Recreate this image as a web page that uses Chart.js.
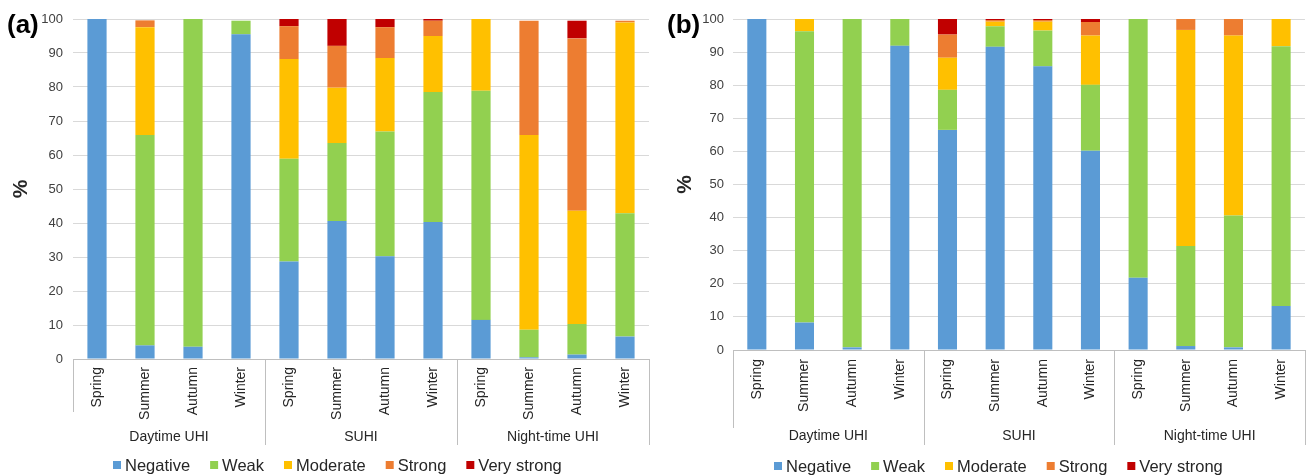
<!DOCTYPE html>
<html>
<head>
<meta charset="utf-8">
<script src="https://cdn.jsdelivr.net/npm/chart.js@4.4.1/dist/chart.umd.min.js"></script>
<style>
html,body{margin:0;padding:0;background:#fff;}
#wrap{position:relative;width:1307px;height:476px;overflow:hidden;}
canvas{position:absolute;top:0;}
</style>
</head>
<body>
<div id="wrap">
<canvas id="ca" width="654" height="476" style="left:0px"></canvas>
<canvas id="cb" width="653" height="476" style="left:654px"></canvas>
</div>
<script>
// ---------- data ----------
const categories = ['Spring','Summer','Autumn','Winter','Spring','Summer','Autumn','Winter','Spring','Summer','Autumn','Winter'];
const groups = ['Daytime UHI','SUHI','Night-time UHI'];
const seriesNames = ['Negative','Weak','Moderate','Strong','Very strong'];
const seriesColors = ['#5b9bd5','#92d050','#ffc000','#ed7d31','#c00000'];
const yTickValues = [0,10,20,30,40,50,60,70,80,90,100];

// panel (a)
const aNegative   = [100, 4.0, 3.6, 95.5, 28.7, 40.6, 30.2, 40.3, 11.5, 0.5, 1.3, 6.6];
const aWeak       = [0, 61.9, 96.4, 4.0, 30.2, 22.9, 36.7, 38.2, 67.4, 8.1, 9.0, 36.3];
const aModerate   = [0, 31.7, 0, 0, 29.3, 16.3, 21.6, 16.5, 21.1, 57.3, 33.3, 56.1];
const aStrong     = [0, 2.0, 0, 0, 9.7, 12.3, 9.1, 4.5, 0, 33.6, 50.7, 0.5];
const aVeryStrong = [0, 0, 0, 0, 2.1, 7.9, 2.4, 0.5, 0, 0, 5.2, 0];

// panel (b)
const bNegative   = [100, 8.3, 0.8, 91.9, 66.5, 91.6, 85.7, 60.2, 21.8, 1.2, 0.8, 13.3];
const bWeak       = [0, 88.0, 99.2, 8.1, 12.1, 6.2, 10.8, 19.9, 78.2, 30.2, 39.8, 78.5];
const bModerate   = [0, 3.7, 0, 0, 9.7, 1.4, 2.7, 14.9, 0, 65.3, 54.4, 8.2];
const bStrong     = [0, 0, 0, 0, 7.0, 0.5, 0.5, 4.1, 0, 3.3, 5.0, 0];
const bVeryStrong = [0, 0, 0, 0, 4.7, 0.3, 0.3, 0.9, 0, 0, 0, 0];

// ---------- rendering ----------
const FONT = "'Liberation Sans', Arial, sans-serif";
Chart.defaults.font.family = FONT;

function makePanel(canvasId, tag, seriesData, L) {
  const datasets = seriesNames.map((n, i) => ({
    label: n,
    data: seriesData[i],
    backgroundColor: seriesColors[i],
    borderWidth: 0,
    barPercentage: 1,
    categoryPercentage: 0.4
  }));

  const decor = {
    id: 'decor',
    afterDraw(chart) {
      const ctx = chart.ctx;
      const xs = chart.scales.x;
      const ca = chart.chartArea;
      const n = categories.length;
      ctx.save();
      // group separators
      ctx.strokeStyle = '#bfbfbf';
      ctx.lineWidth = 1;
      const bounds = [];
      for (let g = 0; g <= groups.length; g++) {
        const i = g * 4;
        let px;
        if (i === 0) px = ca.left;
        else if (i >= n) px = ca.right;
        else px = (xs.getPixelForValue(i - 1) + xs.getPixelForValue(i)) / 2;
        bounds.push(px);
        const x = Math.round(px) + 0.5;
        ctx.beginPath();
        ctx.moveTo(x, ca.bottom);
        ctx.lineTo(x, g === 0 ? L.leftLineEnd : L.sepEnd);
        ctx.stroke();
      }
      // group labels
      ctx.fillStyle = '#262626';
      ctx.font = '14px ' + FONT;
      ctx.textAlign = 'center';
      ctx.textBaseline = 'middle';
      for (let g = 0; g < groups.length; g++) {
        ctx.fillText(groups[g], (bounds[g] + bounds[g + 1]) / 2, L.groupLabelY);
      }
      // legend
      ctx.font = '16.5px ' + FONT;
      ctx.textAlign = 'left';
      let x = L.legendX;
      chart.data.datasets.forEach(ds => {
        ctx.fillStyle = ds.backgroundColor;
        ctx.fillRect(x, L.legendY - 4, 8, 8);
        x += 12;
        ctx.fillStyle = '#262626';
        ctx.fillText(ds.label, x, L.legendY + 1);
        x += ctx.measureText(ds.label).width + 20;
      });
      // panel tag
      ctx.fillStyle = '#000';
      ctx.font = 'bold 26px ' + FONT;
      ctx.textBaseline = 'alphabetic';
      ctx.fillText(tag, L.tagX, 33);
      // y axis title
      ctx.translate(L.pctX, (ca.top + ca.bottom) / 2);
      ctx.rotate(-Math.PI / 2);
      ctx.textAlign = 'center';
      ctx.textBaseline = 'middle';
      ctx.font = 'bold 21px ' + FONT;
      ctx.fillStyle = '#262626';
      ctx.fillText('%', 0, 0);
      ctx.restore();
    }
  };

  return new Chart(document.getElementById(canvasId), {
    type: 'bar',
    data: { labels: categories, datasets },
    plugins: [decor],
    options: {
      responsive: false,
      animation: false,
      devicePixelRatio: 1,
      layout: { padding: { top: 19, right: L.right, left: 0, bottom: 0 } },
      plugins: { legend: { display: false }, tooltip: { enabled: false } },
      scales: {
        x: {
          stacked: true,
          grid: { display: false, drawTicks: false },
          border: { display: true, color: '#bfbfbf', width: 1 },
          ticks: {
            autoSkip: false, minRotation: 90, maxRotation: 90,
            padding: L.xPad, color: '#262626', font: { size: 14 }
          },
          afterFit(s) { s.height = 476 - L.xBottom; }
        },
        y: {
          stacked: true,
          min: 0, max: 100,
          afterBuildTicks(s) { s.ticks = yTickValues.map(v => ({ value: v })); },
          grid: { color: '#d9d9d9', drawTicks: false },
          border: { display: false },
          ticks: { padding: L.yPad, color: '#404040', font: { size: 13 } },
          afterFit(s) { s.width = L.yWidth; }
        }
      }
    }
  });
}

makePanel('ca', '(a)', [aNegative, aWeak, aModerate, aStrong, aVeryStrong], {
  yWidth: 73, xBottom: 359, right: 5, xPad: 8, yPad: 10,
  leftLineEnd: 412, sepEnd: 445, groupLabelY: 437,
  legendX: 113, legendY: 465, tagX: 7, pctX: 21.5
});
makePanel('cb', '(b)', [bNegative, bWeak, bModerate, bStrong, bVeryStrong], {
  yWidth: 79, xBottom: 350, right: 2, xPad: 9, yPad: 9,
  leftLineEnd: 428, sepEnd: 445, groupLabelY: 436,
  legendX: 120, legendY: 466, tagX: 13, pctX: 31
});
</script>
</body>
</html>
